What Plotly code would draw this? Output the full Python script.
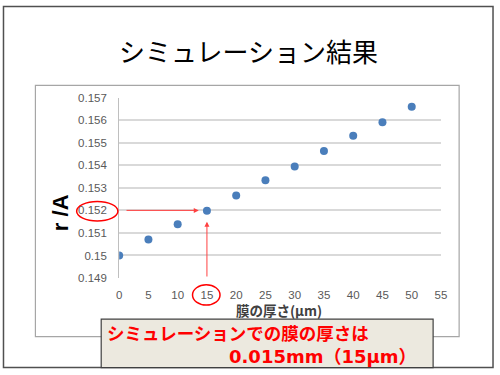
import plotly.graph_objects as go

# ---- data ----
thickness_um = [0, 5, 10, 15, 20, 25, 30, 35, 40, 45, 50]
r_over_A = [0.1500, 0.15071, 0.15138, 0.15198, 0.15266, 0.15334, 0.15395, 0.15463, 0.15531, 0.15591, 0.15660]
y_tick_vals = [0.149, 0.150, 0.151, 0.152, 0.153, 0.154, 0.155, 0.156, 0.157]
y_tick_text = ["0.149", "0.15", "0.151", "0.152", "0.153", "0.154", "0.155", "0.156", "0.157"]
x_tick_vals = [0, 5, 10, 15, 20, 25, 30, 35, 40, 45, 50, 55]
result_x = 15
result_y = 0.152

title_text = "シミュレーション結果"
x_title = "膜の厚さ(μm)"
y_title = "r /A"
note_line1 = "シミュレーションでの膜の厚さは"
note_line2 = "0.015mm（15μm）"

W, H = 500, 375
def px(x):
    return x / W
def py(y):
    return 1 - y / H

JP = "Noto Sans CJK JP"
TICKFONT = dict(family="Liberation Sans, Arial", size=11.5, color="#595959")

fig = go.Figure()
fig.add_trace(go.Scatter(
    x=thickness_um, y=r_over_A, mode="markers",
    marker=dict(color="#4A7EBB", size=8), showlegend=False,
))

plot_l, plot_r, plot_t, plot_b = 118.3, 446, 94.7, 281

fig.update_layout(
    width=W, height=H, autosize=False,
    margin=dict(l=0, r=0, t=0, b=0),
    paper_bgcolor="white", plot_bgcolor="white",
    xaxis=dict(domain=[px(plot_l), px(plot_r)], range=[0, 55],
               tickvals=x_tick_vals, showgrid=False, zeroline=False,
               showline=False, tickfont=TICKFONT, ticks="", ticklabelstandoff=8),
    yaxis=dict(domain=[py(plot_b), py(plot_t)], range=[0.149, 0.157],
               tickvals=y_tick_vals, ticktext=y_tick_text,
               showgrid=True, gridcolor="#D9D9D9", gridwidth=1.5, zeroline=False,
               showline=True, linecolor="#BFBFBF", linewidth=1,
               tickfont=TICKFONT, ticks="", ticklabelstandoff=9),
)

shapes = [
    # slide border
    dict(type="rect", xref="paper", yref="paper", x0=px(0.5), x1=px(499), y0=py(373.5), y1=py(0.5),
         line=dict(color="#505050", width=1.5), layer="above"),
    # chart box
    dict(type="rect", xref="paper", yref="paper", x0=px(33), x1=px(464.5), y0=py(341.5), y1=py(82),
         line=dict(color="#A6A6A6", width=1.2), layer="below"),
    # note box
    dict(type="rect", xref="paper", yref="paper", x0=px(100), x1=px(438), y0=py(373.5), y1=py(323.5),
         fillcolor="#ECE9DF", line=dict(color="#404040", width=1.2), layer="above"),
    # red ellipses
    dict(type="circle", xref="paper", yref="paper", x0=px(75), x1=px(117), y0=py(222), y1=py(202),
         line=dict(color="#FF0000", width=1.5), layer="above"),
    dict(type="circle", xref="paper", yref="paper", x0=px(193), x1=px(221), y0=py(309), y1=py(288),
         line=dict(color="#FF0000", width=1.5), layer="above"),
]
fig.update_layout(shapes=shapes)

ann = [
    dict(text=title_text, xref="paper", yref="paper", x=px(250), y=py(46), showarrow=False,
         font=dict(family=JP, size=26, color="black"), xanchor="center", yanchor="middle"),
    dict(text="<b>" + y_title + "</b>", xref="paper", yref="paper", x=px(58), y=py(213), showarrow=False,
         textangle=-90, font=dict(family="Liberation Sans, Arial", size=22, color="black"),
         xanchor="center", yanchor="middle"),
    dict(text="<b>" + x_title + "</b>", xref="paper", yref="paper", x=px(281), y=py(314.5), showarrow=False,
         font=dict(family=JP, size=13.5, color="#404040"), xanchor="center", yanchor="middle"),
    dict(text="<b>" + note_line1 + "</b>", xref="paper", yref="paper", x=px(104), y=py(337.5), showarrow=False,
         font=dict(family=JP, size=17.5, color="#FF0000"), xanchor="left", yanchor="middle"),
    dict(text="<b>" + note_line2 + "</b>", xref="paper", yref="paper", x=px(424), y=py(362), showarrow=False,
         font=dict(family="DejaVu Sans, Noto Sans CJK JP", size=18, color="#FF0000"),
         xanchor="right", yanchor="middle"),
    # horizontal arrow to the result point
    dict(x=result_x - 1.4, y=result_y, xref="x", yref="y", ax=1.0, ay=result_y, axref="x", ayref="y",
         showarrow=True, arrowhead=2, arrowsize=1, arrowwidth=1, arrowcolor="#FF4040", text=""),
    # vertical arrow to the result point
    dict(x=result_x, y=0.1515, xref="x", yref="y", ax=result_x, ay=0.149, axref="x", ayref="y",
         showarrow=True, arrowhead=2, arrowsize=1, arrowwidth=1, arrowcolor="#FF4040", text=""),
]
fig.update_layout(annotations=ann)

fig.write_html("out.html", config={"displayModeBar": False, "responsive": False},
               default_width="500px", default_height="375px")

# remove default page margin so the 500x375 figure fills the window exactly
with open("out.html", "r", encoding="utf-8") as f:
    html = f.read()
html = html.replace("<head>", "<head><style>html,body{margin:0;padding:0;overflow:hidden;}</style>", 1)
with open("out.html", "w", encoding="utf-8") as f:
    f.write(html)
